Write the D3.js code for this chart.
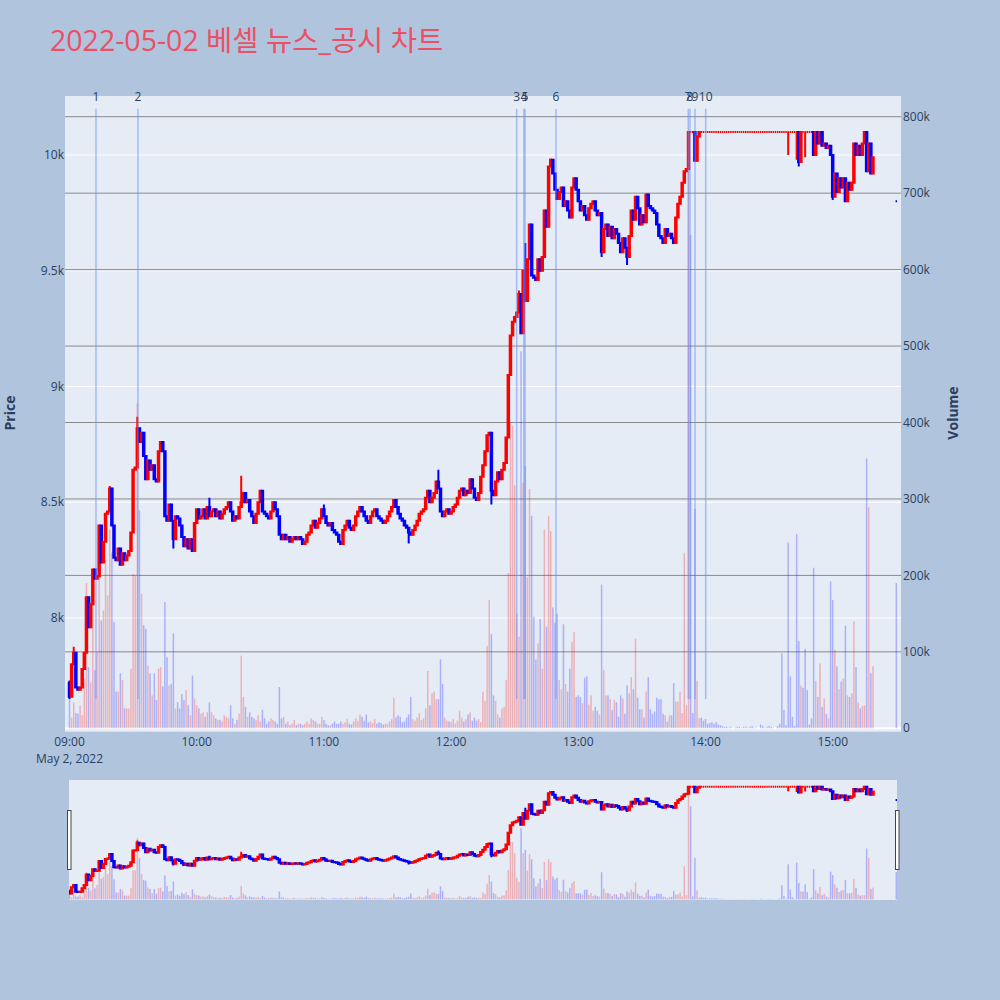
<!DOCTYPE html>
<html><head><meta charset="utf-8">
<script src="https://cdn.jsdelivr.net/npm/d3@7"></script>
<style>body{margin:0;background:#B0C4DE}svg{display:block}</style>
</head><body>
<svg id="chart" width="1000" height="1000"></svg>
<script>
// ---------------- data ----------------
const chartTitle = "2022-05-02 베셀 뉴스_공시 차트";
const sessions = [["09:00","15:19"],["15:30","15:30"]];   // one candle per minute
const closes = [
 7660,7800,7850,7700,7690,7700,7780,7850,8090,7960,
 8060,8210,8170,8180,8400,8240,8330,8450,8460,8560,
 8400,8260,8250,8300,8230,8280,8250,8270,8290,8370,
 8640,8650,8820,8760,8800,8700,8600,8680,8640,8660,
 8600,8590,8720,8760,8720,8440,8420,8490,8420,8340,
 8440,8430,8400,8350,8310,8340,8300,8340,8290,8410,
 8470,8430,8440,8470,8430,8480,8440,8460,8470,8440,
 8460,8430,8450,8470,8480,8500,8460,8420,8440,8430,
 8480,8500,8540,8500,8510,8460,8440,8410,8450,8500,
 8550,8460,8450,8440,8430,8460,8500,8470,8440,8360,
 8340,8360,8340,8350,8330,8340,8350,8340,8350,8340,
 8320,8330,8360,8370,8400,8420,8390,8410,8430,8470,
 8440,8410,8400,8410,8380,8370,8360,8330,8320,8380,
 8400,8420,8390,8380,8400,8440,8460,8480,8460,8440,
 8420,8410,8440,8460,8470,8440,8430,8420,8410,8420,
 8440,8460,8480,8510,8480,8450,8430,8420,8400,8390,
 8370,8360,8380,8400,8420,8450,8460,8470,8520,8550,
 8500,8520,8540,8590,8560,8460,8440,8460,8470,8450,
 8460,8480,8490,8520,8550,8560,8530,8550,8540,8600,
 8560,8520,8510,8540,8610,8660,8720,8790,8800,8550,
 8530,8590,8630,8600,8640,8670,8780,9050,9220,9280,
 9300,9320,9400,9230,9500,9370,9550,9700,9480,9470,
 9460,9550,9500,9560,9760,9690,9950,9980,9920,9850,
 9810,9840,9860,9780,9800,9760,9730,9860,9900,9850,
 9800,9760,9780,9740,9720,9770,9790,9800,9760,9740,
 9750,9580,9680,9700,9650,9690,9640,9680,9660,9620,
 9580,9640,9600,9560,9650,9760,9720,9820,9770,9700,
 9740,9710,9830,9780,9770,9760,9750,9700,9650,9640,
 9620,9680,9650,9660,9640,9620,9730,9790,9820,9880,
 9930,9940,10100,10100,10100,9975,10080,10100,10100,10100,
 10100,10100,10100,10100,10100,10100,10100,10100,10100,10100,
 10100,10100,10100,10100,10100,10100,10100,10100,10100,10100,
 10100,10100,10100,10100,10100,10100,10100,10100,10100,10100,
 10100,10100,10100,10100,10100,10100,10100,10100,10100,10100,
 10100,10100,10100,10100,9970,10100,10100,10100,10100,10100,
 10100,10000,10100,10050,10100,10040,10050,10030,10040,10000,
 9820,9920,9840,9900,9860,9900,9800,9880,9850,9880,
 10050,10000,10040,10000,10050,10100,9930,10050,9920,9990,
 9800
];
// open = previous close unless listed here
const openOverrides = [["09:00",7720],["15:30",9800]];
// [time, high, low] for visible wicks
const wicks = [
 ["09:00",7730,7650],["09:02",7876,null],["09:19",8570,null],["09:32",8870,null],
 ["09:49",null,8300],["10:06",8520,null],["10:21",8615,null],["11:00",8490,null],
 ["11:40",null,8322],["11:54",8640,null],["12:19",null,8490],["12:32",9415,null],
 ["12:35",9620,null],["12:47",9985,null],["13:11",null,9560],["13:23",null,9525],
 ["14:39",null,10000],["14:43",null,9980],["14:44",null,9950],["14:47",null,9990],
 ["15:00",null,9806]
];
const volumesK = [
 39,14,34,20,19,30,17,65,190,80,
 60,200,76,100,200,141,154,220,174,260,
 230,139,48,48,72,63,26,26,26,78,
 202,200,425,285,176,135,130,82,72,43,
 72,37,78,80,55,165,93,56,58,124,
 26,34,26,45,37,50,30,17,69,39,
 30,26,19,21,15,21,34,21,17,13,
 11,11,9,17,15,13,30,13,6,11,
 19,95,41,28,15,21,15,13,11,17,
 9,24,13,6,9,13,11,9,6,54,
 13,15,6,9,4,6,11,4,6,6,
 4,6,9,6,13,11,9,6,6,15,
 11,6,4,4,6,9,6,6,9,6,
 8,12,6,5,9,13,10,18,15,10,
 18,8,9,7,12,6,8,7,5,6,
 6,9,12,40,14,17,15,8,9,14,
 18,41,12,10,14,20,11,13,26,75,
 30,46,48,38,38,90,58,14,10,9,
 8,12,6,10,23,14,9,12,18,21,
 10,14,10,12,8,48,36,108,168,123,
 43,36,18,14,26,28,63,203,400,396,
 318,150,120,493,321,343,198,313,278,146,
 90,111,143,78,260,133,278,258,158,138,
 150,63,51,136,58,48,78,113,126,41,
 43,41,33,66,68,31,43,23,28,23,
 18,188,76,43,43,38,24,37,34,15,
 43,39,19,56,46,67,51,117,40,25,
 25,14,48,67,25,19,22,40,38,38,
 19,17,9,17,17,59,35,35,48,20,
 229,30,750,645,20,287,62,13,14,10,
 12,6,7,8,6,8,5,4,3,2,
 2,1,2,0,1,2,2,1,2,2,
 1,2,3,1,1,0,5,3,1,2,
 3,2,1,0,3,6,98,24,4,243,
 68,15,3,254,114,56,53,104,50,5,
 13,210,62,41,85,28,39,19,13,192,
 168,103,81,51,61,65,134,43,41,46,
 140,80,34,26,29,30,353,289,72,81,
 190
];
const newsLabels = ["1","2","3","4","5","6","7","8","9","10"];
const newsTimes = ["09:12:30","09:32:18","12:30:56","12:34:20","12:34:52","12:49:29","13:51:53","13:52:41","13:55:03","14:00:06"];
const priceTicks = [8000,8500,9000,9500,10000];
const priceTickLabels = ["8k","8.5k","9k","9.5k","10k"];
const volumeTicks = [0,100000,200000,300000,400000,500000,600000,700000,800000];
const volumeTickLabels = ["0","100k","200k","300k","400k","500k","600k","700k","800k"];
const xTickTimes = ["09:00","10:00","11:00","12:00","13:00","14:00","15:00"];
const dateLabel = "May 2, 2022";

// ---------------- build ----------------
const RED = "#ff0000", BLUE = "#0000ff", INK = "#2a3f5f";
const FONT = "'Open Sans', 'Noto Sans CJK KR', sans-serif";
const parseT = s => { const p = s.split(":").map(Number); return new Date(2022,4,2,p[0],p[1],p[2]||0); };
const fmt = d3.timeFormat("%H:%M");
const times = [];
sessions.forEach(([a,b]) => { for (let t = parseT(a); t <= parseT(b); t = new Date(+t + 60000)) times.push(t); });
const openMap = new Map(openOverrides);
const wickMap = new Map(wicks.map(w => [w[0], {h:w[1], l:w[2]}]));
let prevC = null, prevDir = 1;
const candles = times.map((t,i) => {
  const key = fmt(t), c = closes[i];
  const o = openMap.has(key) ? openMap.get(key) : prevC;
  const w = wickMap.get(key) || {};
  const h = Math.max(o, c, w.h == null ? -Infinity : w.h);
  const l = Math.min(o, c, w.l == null ? Infinity : w.l);
  let dir = c > o ? 1 : c < o ? -1 : (prevC == null ? prevDir : c > prevC ? 1 : c < prevC ? -1 : prevDir);
  prevDir = dir; prevC = c;
  return {t, o, h, l, c, dir, v: volumesK[i]*1000, up: c > o};
});

// ---------------- layout ----------------
const svg = d3.select("#chart");
const P = {l:65, r:901, t:96, b:731.7};
const S = {l:69, r:897, t:780, b:900};
const x = d3.scaleTime().domain([parseT("08:57:53"), parseT("15:32:13")]).range([P.l, P.r]);
const yP = d3.scaleLinear().domain([7509, 10255]).range([P.b, P.t]);
const yV = d3.scaleLinear().domain([-4450, 827100]).range([P.b, P.t]);
const ySP = d3.scaleLinear().domain([7509, 10255]).range([S.b, S.t]);
const ySV = d3.scaleLinear().domain([-4450, 827100]).range([S.b, S.t]);

svg.append("rect").attr("width",1000).attr("height",1000).attr("fill","#B0C4DE");
svg.append("text").attr("x",50).attr("y",51).attr("font-family",FONT).attr("font-size",28.5)
  .attr("fill","#eb5064").text(chartTitle);

const defs = svg.append("defs");
defs.append("clipPath").attr("id","clipMain").append("rect")
  .attr("x",P.l).attr("y",P.t).attr("width",P.r-P.l).attr("height",P.b-P.t);
defs.append("clipPath").attr("id","clipSlider").append("rect")
  .attr("x",S.l).attr("y",S.t).attr("width",S.r-S.l).attr("height",S.b-S.t);

// main background & grids
svg.append("rect").attr("x",P.l).attr("y",P.t).attr("width",P.r-P.l).attr("height",P.b-P.t).attr("fill","#E5ECF6");
const grid = svg.append("g");
grid.selectAll("line.pg").data(priceTicks).join("line")
  .attr("x1",P.l).attr("x2",P.r).attr("y1",d=>yP(d)).attr("y2",d=>yP(d))
  .attr("stroke","#fff").attr("stroke-width",1);
grid.selectAll("line.vg").data(volumeTicks.filter(v=>v>0)).join("line")
  .attr("x1",P.l).attr("x2",P.r).attr("y1",d=>yV(d)).attr("y2",d=>yV(d))
  .attr("stroke","#8a8a8a").attr("stroke-width",1);
grid.append("line").attr("x1",P.l).attr("x2",P.r).attr("y1",yV(0)).attr("y2",yV(0))
  .attr("stroke","#fff").attr("stroke-width",2);

function drawVolumes(g, yv, bw) {
  g.selectAll("rect").data(candles.filter(d=>d.v>0)).join("rect")
    .attr("x", d=>x(d.t)-bw/2).attr("width", bw)
    .attr("y", d=>yv(d.v)).attr("height", d=>yv(0)-yv(d.v))
    .attr("fill", d=>d.up?RED:BLUE).attr("fill-opacity",0.25);
}
function drawCandles(g, yp, bw) {
  g.selectAll("path").data(candles).join("path")
    .attr("d", d => {
      const cx = x(d.t), top = yp(Math.max(d.o,d.c)), bot = yp(Math.min(d.o,d.c));
      return `M${cx},${yp(d.h)}V${top}M${cx-bw/2},${top}H${cx+bw/2}V${bot}H${cx-bw/2}ZM${cx},${bot}V${yp(d.l)}`;
    })
    .attr("fill", d=>d.dir>0?RED:BLUE).attr("stroke", d=>d.dir>0?RED:BLUE)
    .attr("stroke-width",2);
}
const main = svg.append("g").attr("clip-path","url(#clipMain)");
drawVolumes(main.append("g"), yV, 1.5);
drawCandles(main.append("g"), yP, 1.5);

// news lines
const minLow = d3.min(candles, d=>d.l), maxHigh = d3.max(candles, d=>d.h);
const news = newsTimes.map((t,i)=>({t:parseT(t), label:newsLabels[i]}));
main.append("g").selectAll("line").data(news).join("line")
  .attr("x1",d=>x(d.t)).attr("x2",d=>x(d.t))
  .attr("y1",yP(maxHigh+100)).attr("y2",yP(minLow))
  .attr("stroke","#6f8ff0").attr("stroke-opacity",0.55).attr("stroke-width",1.5);
svg.append("g").selectAll("text").data(news).join("text")
  .attr("x",d=>x(d.t)).attr("y",100.5).attr("text-anchor","middle")
  .attr("font-family",FONT).attr("font-size",12).attr("fill",INK).text(d=>d.label);

// axes labels
const ax = svg.append("g").attr("font-family",FONT).attr("font-size",12).attr("fill",INK);
ax.selectAll("text.yl").data(priceTicks).join("text")
  .attr("x",64).attr("y",d=>yP(d)).attr("dy","0.35em").attr("text-anchor","end")
  .text((d,i)=>priceTickLabels[i]);
ax.selectAll("text.yr").data(volumeTicks).join("text").attr("class","yr")
  .attr("x",903).attr("y",d=>yV(d)).attr("dy","0.35em").attr("text-anchor","start")
  .text((d,i)=>volumeTickLabels[i]);
ax.selectAll("text.xt").data(xTickTimes).join("text").attr("class","xt")
  .attr("x",d=>x(parseT(d))).attr("y",745.5).attr("text-anchor","middle").text(d=>d);
ax.append("text").attr("x",x(parseT(xTickTimes[0]))).attr("y",762.5).attr("text-anchor","middle").text(dateLabel);
svg.append("text").attr("transform","translate(15,413) rotate(-90)").attr("text-anchor","middle")
  .attr("font-family",FONT).attr("font-size",14).attr("font-weight","bold").attr("fill",INK).text("Price");
svg.append("text").attr("transform","translate(958,413) rotate(-90)").attr("text-anchor","middle")
  .attr("font-family",FONT).attr("font-size",14).attr("font-weight","bold").attr("fill",INK).text("Volume");

// range slider
svg.append("rect").attr("x",S.l).attr("y",S.t).attr("width",S.r-S.l).attr("height",S.b-S.t).attr("fill","#E5ECF6");
const sl = svg.append("g").attr("clip-path","url(#clipSlider)");
drawVolumes(sl.append("g"), ySV, 1.5);
drawCandles(sl.append("g"), ySP, 1.5);
[S.l-2, S.r-2].forEach(hx => {
  svg.append("rect").attr("x",hx+0.5).attr("y",810.5).attr("width",3.5).attr("height",59)
    .attr("fill","#fff").attr("stroke","#444").attr("stroke-width",1);
});
</script>
</body></html>
